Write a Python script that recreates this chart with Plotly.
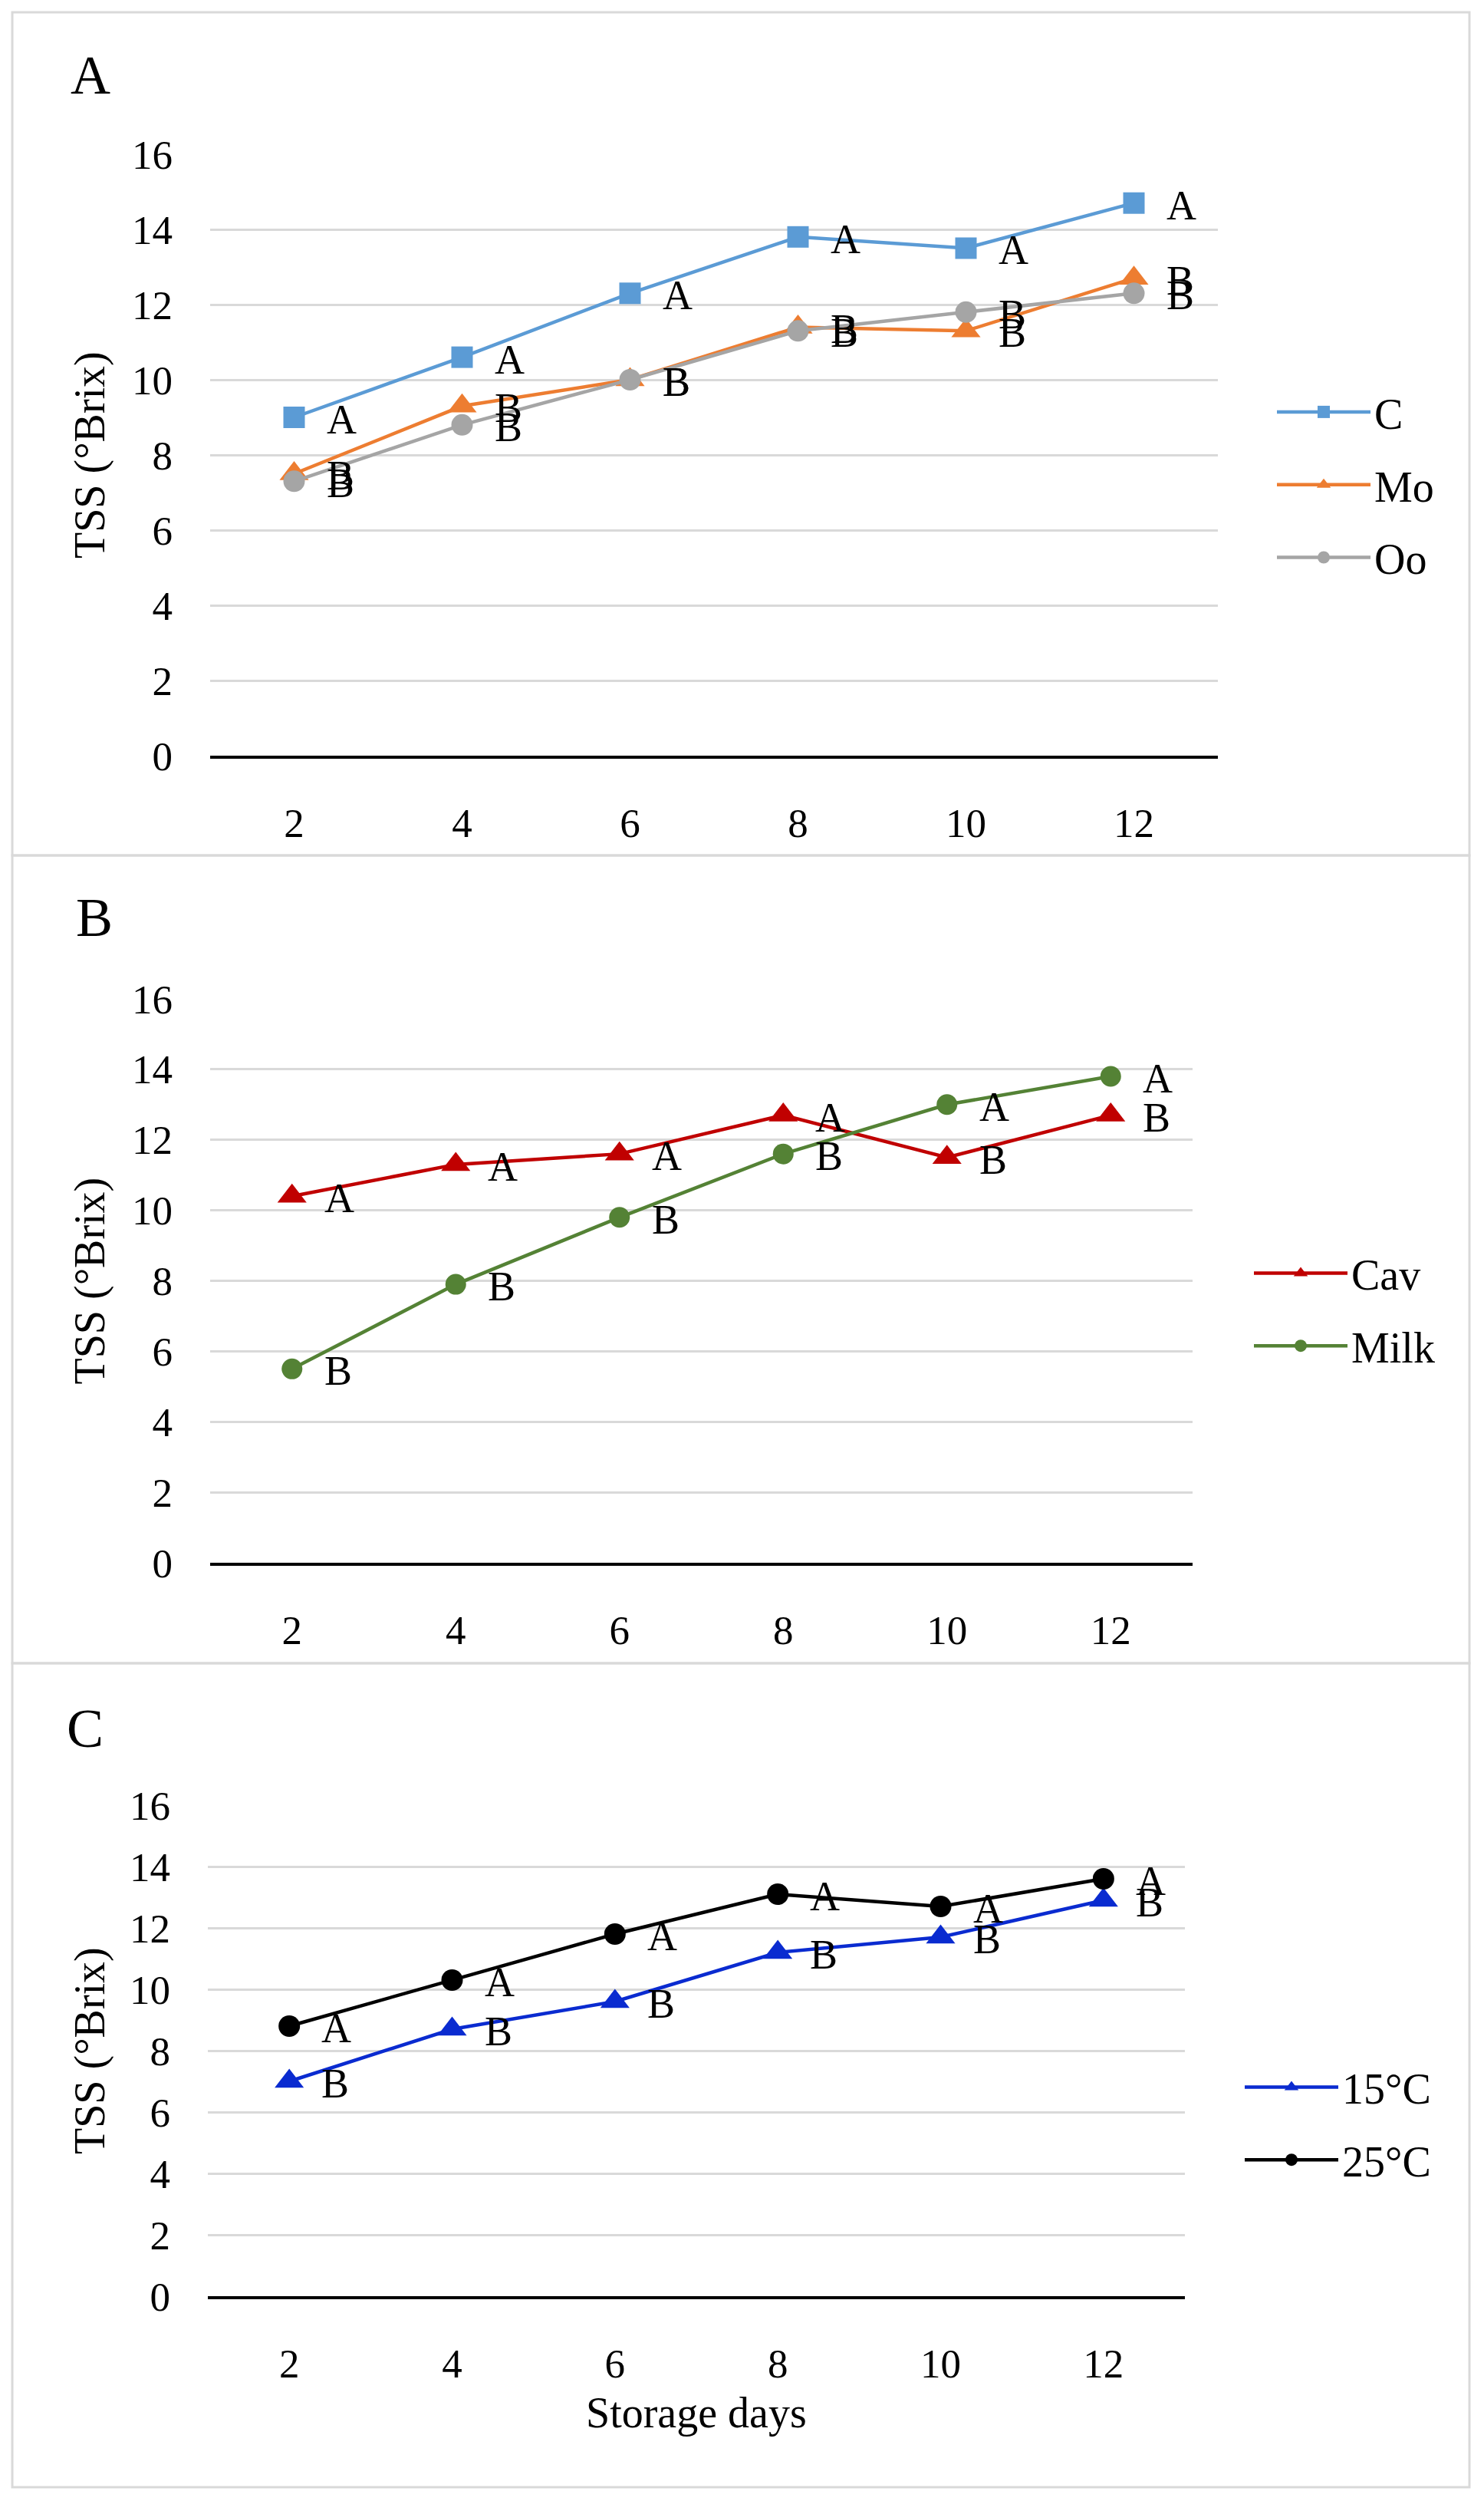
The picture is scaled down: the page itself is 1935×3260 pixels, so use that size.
import plotly.graph_objects as go

# the page body adds an 8px margin, so the figure is drawn 8px in from the window edge
PAGE_W, PAGE_H, OFFSET = 1935, 3260, 8
W, H = PAGE_W - 2 * OFFSET, PAGE_H - 2 * OFFSET

days = [2, 4, 6, 8, 10, 12]

# panel A: coatings
c_tss = [9.0, 10.6, 12.3, 13.8, 13.5, 14.7]
mo_tss = [7.5, 9.3, 10.0, 11.4, 11.3, 12.7]
oo_tss = [7.3, 8.8, 10.0, 11.3, 11.8, 12.3]
c_letters = ["A", "A", "A", "A", "A", "A"]
mo_letters = ["B", "B", "B", "B", "B", "B"]
oo_letters = ["B", "B", "B", "B", "B", "B"]

# panel B: packaging
cav_tss = [10.4, 11.3, 11.6, 12.7, 11.5, 12.7]
milk_tss = [5.5, 7.9, 9.8, 11.6, 13.0, 13.8]
cav_letters = ["A", "A", "A", "A", "B", "B"]
milk_letters = ["B", "B", "B", "B", "A", "A"]

# panel C: temperature
t15_tss = [7.0, 8.7, 9.6, 11.2, 11.7, 12.9]
t25_tss = [8.8, 10.3, 11.8, 13.1, 12.7, 13.6]
t15_letters = ["B", "B", "B", "B", "B", "B"]
t25_letters = ["A", "A", "A", "A", "A", "A"]

FONT = "Liberation Serif"


def px_x(v):
    return (v - OFFSET) / W


def px_y(v):
    return 1 - (v - OFFSET) / H


# (name, values, letters, color, symbol, size, panel index)
series = [
    ("C", c_tss, c_letters, "#5B9BD5", "square", 28, 0),
    ("Mo", mo_tss, mo_letters, "#ED7D31", "triangle-up", 33, 0),
    ("Oo", oo_tss, oo_letters, "#A5A5A5", "circle", 28, 0),
    ("Cav", cav_tss, cav_letters, "#C00000", "triangle-up", 33, 1),
    ("Milk", milk_tss, milk_letters, "#548235", "circle", 27, 1),
    ("15°C", t15_tss, t15_letters, "#0A2BD0", "triangle-up", 33, 2),
    ("25°C", t25_tss, t25_letters, "#000000", "circle", 28, 2),
]

# plot areas in window pixels: left, right, top, bottom
areas = [(274, 1588, 201, 985), (274, 1555, 1302, 2037), (271, 1545, 2353, 2993)]
legend_pos = [(1660, 632), (1630, 1707), (1618, 2768)]
panel_letters = [("A", 118, 98), ("B", 123, 1196), ("C", 111, 2253)]
boxes = [(16, 1115), (1115, 2168), (2168, 3242)]

fig = go.Figure()
annotations = []

for name, vals, letters, color, symbol, size, p in series:
    sfx = "" if p == 0 else str(p + 1)
    fig.add_trace(go.Scatter(
        x=days, y=vals, name=name, mode="lines+markers",
        xaxis="x" + sfx, yaxis="y" + sfx, legend="legend" + sfx, legendgroup=name,
        line=dict(color=color, width=4.5),
        marker=dict(symbol=symbol, size=size, color=color),
    ))
    for d, v, t in zip(days, vals, letters):
        annotations.append(dict(
            x=d, y=v, xref="x" + sfx, yref="y" + sfx, text=t, showarrow=False,
            xanchor="left", yanchor="middle", xshift=40, yshift=-3,
            font=dict(family=FONT, size=54, color="black"),
        ))

layout = dict(
    width=W, height=H, margin=dict(l=0, r=0, t=0, b=0, autoexpand=False),
    paper_bgcolor="white", plot_bgcolor="white",
    font=dict(family=FONT, size=52, color="black"),
)

for i, (l, r, t, b) in enumerate(areas):
    sfx = "" if i == 0 else str(i + 1)
    layout["xaxis" + sfx] = dict(
        domain=[px_x(l), px_x(r)], anchor="y" + sfx,
        range=[1, 13], tickvals=days, ticktext=[str(d) for d in days],
        showgrid=False, zeroline=False, automargin=False,
        showline=True, linecolor="black", linewidth=4, ticks="",
        ticklabelstandoff=38, tickfont=dict(family=FONT, size=53),
    )
    layout["yaxis" + sfx] = dict(
        domain=[px_y(b), px_y(t)], anchor="x" + sfx, range=[0, 16], dtick=2,
        showgrid=True, gridcolor="#D9D9D9", gridwidth=3, zeroline=False,
        showline=False, ticks="", ticklabelstandoff=48, automargin=False,
        tickfont=dict(family=FONT, size=53),
    )
    lx, ly = legend_pos[i]
    layout["legend" + sfx] = dict(
        x=px_x(lx), y=px_y(ly), xanchor="left", yanchor="middle",
        font=dict(family=FONT, size=56, color="black"),
        bgcolor="rgba(0,0,0,0)", tracegroupgap=19, itemwidth=122,
    )
    annotations.append(dict(
        x=px_x(117), y=px_y((t + b) / 2), xref="paper", yref="paper",
        xanchor="center", yanchor="middle",
        text="TSS (°Brix)", textangle=-90, showarrow=False,
        font=dict(family=FONT, size=56, color="black"),
    ))

for letter, lx, ly in panel_letters:
    annotations.append(dict(
        x=px_x(lx), y=px_y(ly), xref="paper", yref="paper", text=letter,
        xanchor="center", yanchor="middle",
        showarrow=False, font=dict(family=FONT, size=72, color="black"),
    ))

annotations.append(dict(
    x=px_x(908), y=px_y(3145), xref="paper", yref="paper", text="Storage days",
    xanchor="center", yanchor="middle",
    showarrow=False, font=dict(family=FONT, size=56, color="black"),
))

layout["shapes"] = [
    dict(type="rect", xref="paper", yref="paper", x0=px_x(16), x1=px_x(1916),
         y0=px_y(b), y1=px_y(t), line=dict(color="#D9D9D9", width=3))
    for t, b in boxes
]
layout["annotations"] = annotations

fig.update_layout(layout)
fig.write_html("out.html")
